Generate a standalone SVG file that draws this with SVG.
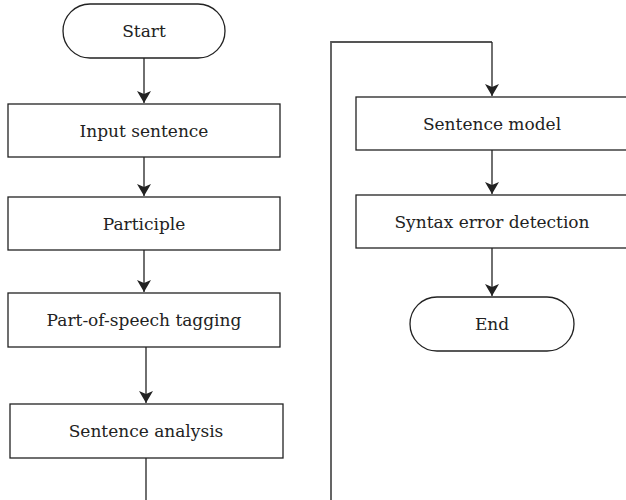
<svg xmlns="http://www.w3.org/2000/svg" width="626" height="500" viewBox="0 0 626 500">
<style>
.box{fill:#fff;stroke:#222;stroke-width:1.3}
.lbl{font-family:'DejaVu Serif',serif;font-size:17px;fill:#222;text-anchor:middle}
.con{fill:none;stroke:#222;stroke-width:1.3}
.gray{stroke:#555;stroke-width:1.8}
</style>
<defs>
<marker id="ah" viewBox="0 0 12 14" refX="12" refY="7" markerWidth="12" markerHeight="14" markerUnits="userSpaceOnUse" orient="auto">
<path d="M0,0 L12,7 L0,14 L3,7 Z" fill="#222"/>
</marker>
</defs>
<rect width="626" height="500" fill="#fff"/>
<g id="connectors">
<line class="con" x1="144" y1="58" x2="144" y2="103" marker-end="url(#ah)"/>
<line class="con" x1="144" y1="157" x2="144" y2="196" marker-end="url(#ah)"/>
<line class="con" x1="144" y1="250" x2="144" y2="292" marker-end="url(#ah)"/>
<line class="con" x1="146" y1="347" x2="146" y2="403" marker-end="url(#ah)"/>
<line class="con" x1="146" y1="458" x2="146" y2="500"/>
<polyline class="con gray" points="331,500 331,42 492,42"/>
<line class="con" x1="492" y1="42" x2="492" y2="96" marker-end="url(#ah)"/>
<line class="con" x1="492" y1="150" x2="492" y2="194" marker-end="url(#ah)"/>
<line class="con" x1="492" y1="248" x2="492" y2="296" marker-end="url(#ah)"/>
</g>
<g id="start">
<rect class="box" x="63" y="4" width="162" height="54" rx="27" ry="27"/>
<text class="lbl" x="144" y="37">Start</text>
</g>
<g id="input-sentence">
<rect class="box" x="8" y="104" width="272" height="53"/>
<text class="lbl" x="144" y="137">Input sentence</text>
</g>
<g id="participle">
<rect class="box" x="8" y="197" width="272" height="53"/>
<text class="lbl" x="144" y="230">Participle</text>
</g>
<g id="pos-tagging">
<rect class="box" x="8" y="293" width="272" height="54"/>
<text class="lbl" x="144" y="326">Part-of-speech tagging</text>
</g>
<g id="sentence-analysis">
<rect class="box" x="10" y="404" width="273" height="54"/>
<text class="lbl" x="146" y="437">Sentence analysis</text>
</g>
<g id="sentence-model">
<rect class="box" x="356" y="97" width="272" height="53"/>
<text class="lbl" x="492" y="130">Sentence model</text>
</g>
<g id="syntax-error-detection">
<rect class="box" x="356" y="195" width="272" height="53"/>
<text class="lbl" x="492" y="228">Syntax error detection</text>
</g>
<g id="end">
<rect class="box" x="410" y="297" width="164" height="54" rx="27" ry="27"/>
<text class="lbl" x="492" y="330">End</text>
</g>
</svg>
